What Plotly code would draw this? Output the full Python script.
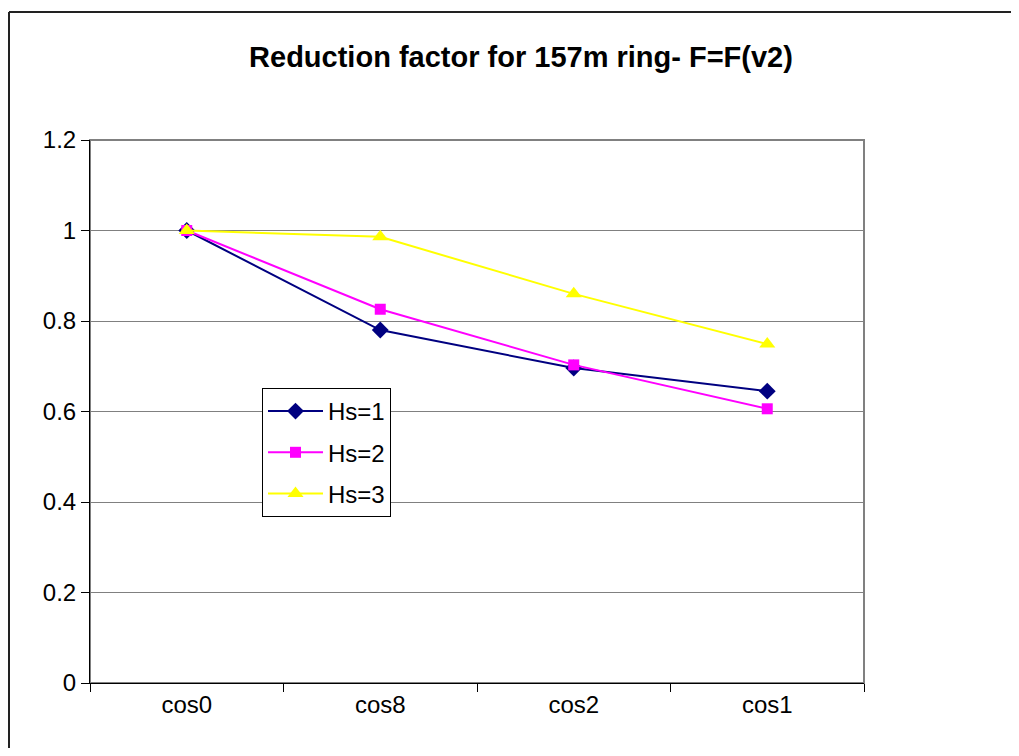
import plotly.graph_objects as go

categories = ["cos0", "cos8", "cos2", "cos1"]
hs1 = [1.0, 0.780, 0.696, 0.645]
hs2 = [1.0, 0.826, 0.703, 0.606]
hs3 = [1.0, 0.986, 0.860, 0.749]
series_names = ["Hs=1", "Hs=2", "Hs=3"]
title_text = "Reduction factor for 157m ring- F=F(v2)"

fig = go.Figure()
styles = [
    ("#000080", "diamond", 13),
    ("#FF00FF", "square", 11),
    ("#FFFF00", "triangle-up", 14),
]
for i, (name, vals) in enumerate(zip(series_names, [hs1, hs2, hs3])):
    color, sym, size = styles[i]
    fig.add_trace(go.Scatter(
        x=categories, y=vals, name=name, mode="lines+markers",
        line=dict(color=color, width=2),
        marker=dict(symbol=sym, size=size, color=color),
        legendgroup=name,
    ))

# page body has an 8px margin on every side; keep the figure inside the window
W, H = 1003, 740
L, R, T, B = 82, 147, 132, 65
pw = W - L - R
ph = H - T - B

fig.update_layout(
    width=W, height=H,
    margin=dict(l=L, r=R, t=T, b=B, pad=0),
    paper_bgcolor="white", plot_bgcolor="white",
    font=dict(family="Liberation Sans, Arial", color="black"),
    title=dict(text="<b>" + title_text + "</b>", x=513 / W, xanchor="center",
               y=1 - 49 / H, yanchor="middle", font=dict(size=29)),
    xaxis=dict(type="category", range=[-0.5, 3.5], tickson="boundaries",
               showgrid=False, ticks="outside", ticklen=8, tickcolor="black",
               showline=True, linecolor="black", linewidth=1,
               tickfont=dict(size=24), zeroline=False),
    yaxis=dict(range=[0, 1.2], dtick=0.2, showgrid=True, gridcolor="#808080",
               gridwidth=1, ticks="outside", ticklen=8, tickcolor="black",
               showline=True, linecolor="black", linewidth=1,
               tickfont=dict(size=24), zeroline=False),
    legend=dict(x=(254 - L) / pw, y=(675 - 380) / ph, xanchor="left", yanchor="top",
                bordercolor="black", borderwidth=1, bgcolor="white",
                font=dict(size=24), traceorder="grouped", tracegroupgap=7,
                itemwidth=55),
    shapes=[
        dict(type="rect", xref="paper", yref="paper", x0=0, x1=1, y0=0, y1=1,
             line=dict(color="#808080", width=2), layer="below"),
        # outer chart border (top and left edges visible)
        dict(type="line", xref="paper", yref="paper",
             x0=(1 - L) / pw, y0=(675 - 4) / ph, x1=(1040 - L) / pw, y1=(675 - 4) / ph,
             line=dict(color="#222222", width=2), layer="below"),
        dict(type="line", xref="paper", yref="paper",
             x0=(1 - L) / pw, y0=(675 - 4) / ph, x1=(1 - L) / pw, y1=(675 - 790) / ph,
             line=dict(color="#222222", width=2), layer="below"),
    ],
)

fig.write_html("out.html")
